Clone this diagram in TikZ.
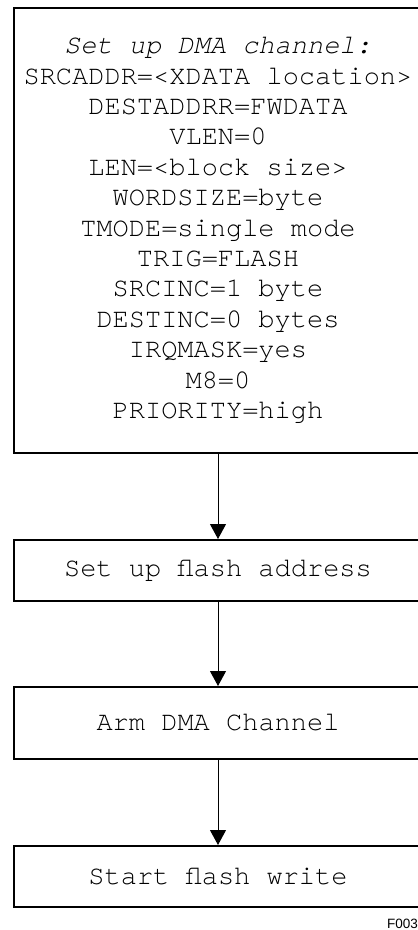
\documentclass[tikz,border=0pt]{standalone}
\usepackage{fontspec}
\setmonofont{TeX Gyre Cursor}
\newfontfamily\labelfont{Liberation Sans}
\usetikzlibrary{arrows.meta}
\begin{document}
\begin{tikzpicture}[x=1pt,y=-1pt,
  stepbox/.style={draw,line width=2pt,rectangle,minimum width=408pt,inner sep=0pt,align=center,
    font=\ttfamily\fontsize{27}{30.4}\selectfont},
  flow/.style={line width=1pt,-{Triangle[width=16pt,length=15pt]}}]
\useasboundingbox (0,0) rectangle (418,930);
\node[stepbox,minimum height=445pt] (b1) at (218,230.5) {\textit{Set up DMA channel:}\\
SRCADDR=<XDATA location>\\
DESTADDRR=FWDATA\\
VLEN=0\\
LEN=<block size>\\
WORDSIZE=byte\\
TMODE=single mode\\
TRIG=FLASH\\
SRCINC=1 byte\\
DESTINC=0 bytes\\
IRQMASK=yes\\
M8=0\\
PRIORITY=high};
\node[stepbox,minimum height=61pt] (b2) at (218,570.5) {Set up flash address};
\node[stepbox,minimum height=72pt] (b3) at (218,723) {Arm DMA Channel};
\node[stepbox,minimum height=61pt] (b4) at (218,876.5) {Start flash write};
\draw[flow] (b1.south) -- (b2.north);
\draw[flow] (b2.south) -- (b3.north);
\draw[flow] (b3.south) -- (b4.north);
\node[anchor=east,inner sep=0pt,font=\labelfont\fontsize{13.5}{15}\selectfont] (lbl) at (418,923.5) {F003};
\end{tikzpicture}
\end{document}
